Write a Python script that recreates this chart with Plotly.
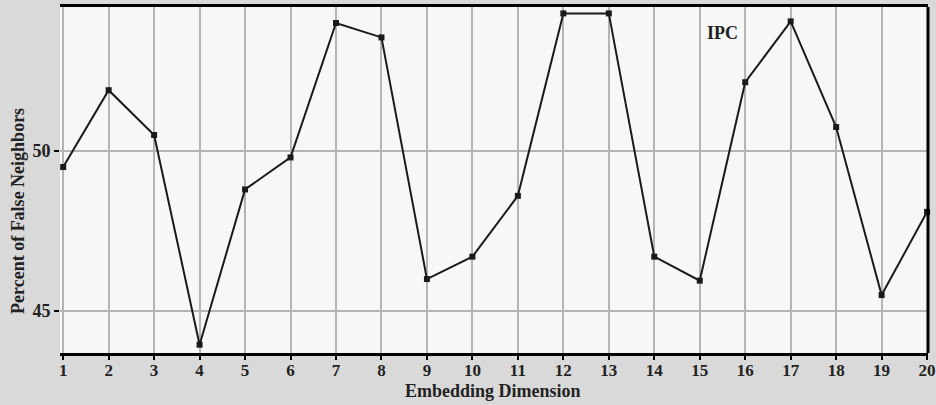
import plotly.graph_objects as go

# Embedding dimension vs. percent of false nearest neighbours (IPC series)
dimensions = list(range(1, 21))
false_neighbors_pct = [49.5, 51.9, 50.5, 43.95, 48.8, 49.8, 54.0, 53.55, 46.0, 46.7,
                       48.6, 54.3, 54.3, 46.7, 45.95, 52.15, 54.05, 50.75, 45.5, 48.1]
y_tick_values = [45, 50]
series_label = "IPC"

FONT = "Liberation Serif"

fig = go.Figure()
fig.add_trace(go.Scatter(
    x=dimensions, y=false_neighbors_pct, mode="lines+markers",
    line=dict(color="#1a1a1a", width=2),
    marker=dict(symbol="square", size=6, color="#1a1a1a"),
    showlegend=False, hoverinfo="x+y", cliponaxis=False,
))

fig.update_layout(
    width=936, height=405,
    margin=dict(l=60, r=8, t=7, b=52, autoexpand=False),
    paper_bgcolor="#d9d9d9",
    plot_bgcolor="#f7f7f7",
    xaxis=dict(
        range=[0.93, 20.02], tickmode="array", tickvals=dimensions,
        showgrid=True, gridcolor="#b4b4b4", gridwidth=2,
        showline=True, linecolor="black", linewidth=3, mirror=True,
        ticks="outside", ticklen=4, tickwidth=2, tickcolor="black",
        ticklabelstandoff=-4,
        tickfont=dict(family=FONT, size=17, color="#222", weight="bold"),
        zeroline=False, automargin=False,
    ),
    yaxis=dict(
        range=[43.69, 54.5], tickmode="array", tickvals=y_tick_values,
        showgrid=True, gridcolor="#b4b4b4", gridwidth=2,
        showline=False,
        ticks="outside", ticklen=5, tickwidth=2, tickcolor="black",
        tickfont=dict(family=FONT, size=18, color="#222", weight="bold"),
        zeroline=False, automargin=False,
    ),
    shapes=[
        # right frame edge
        dict(type="line", xref="paper", yref="paper", x0=1, x1=1, y0=0, y1=1,
             line=dict(color="black", width=3)),
    ],
    annotations=[
        dict(text="<b>Embedding Dimension</b>", xref="paper", yref="paper",
             x=(493 - 60) / 868, y=-38 / 346, xanchor="center", yanchor="middle",
             showarrow=False, font=dict(family=FONT, size=18, color="#222")),
        dict(text="<b>Percent of False Neighbors</b>", xref="paper", yref="paper",
             x=-42 / 868, y=(353 - 211) / 346, xanchor="center", yanchor="middle",
             textangle=-90, showarrow=False,
             font=dict(family=FONT, size=18, color="#222")),
        dict(text="<b>" + series_label + "</b>", xref="paper", yref="paper",
             x=(722 - 60) / 868, y=(353 - 33) / 346, xanchor="center", yanchor="middle",
             showarrow=False, font=dict(family=FONT, size=18, color="#222")),
    ],
)

fig.write_html("out.html")
